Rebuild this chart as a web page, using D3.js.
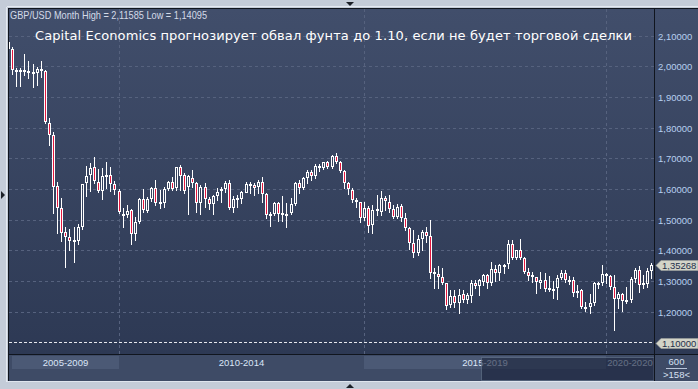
<!DOCTYPE html>
<html><head><meta charset="utf-8">
<script src="https://cdn.jsdelivr.net/npm/d3@7"></script>
<style>
html,body{margin:0;padding:0;background:#c4ccd8;overflow:hidden;}
svg{display:block;}
</style></head><body>
<svg id="c" width="698" height="389"></svg>
<script>
// ---------- DATA ----------
const months = d3.timeMonth.range(new Date(2007,10,1), new Date(2021,0,1)).map(d3.timeFormat("%Y-%m"));
const open = [
 2.0810,2.0580,
 1.9890,1.9900,1.9880,1.9850,1.9820,1.9800,1.9920,1.9850,1.8160,1.7780,1.6100,1.5390,
 1.4600,1.4460,1.4310,1.4330,1.4780,1.6200,1.6470,1.6720,1.6250,1.5960,1.6450,1.6470,
 1.6170,1.5940,1.5140,1.5170,1.5330,1.4530,1.4930,1.5700,1.5290,1.5700,1.6030,1.5590,
 1.5540,1.6000,1.6250,1.6030,1.6720,1.6470,1.6080,1.6380,1.6220,1.5540,1.6080,1.5700,
 1.5520,1.5770,1.5930,1.6000,1.6220,1.5400,1.5690,1.5680,1.5890,1.6160,1.6140,1.6090,
 1.6250,1.5840,1.5140,1.5200,1.5540,1.5200,1.5190,1.5220,1.5510,1.6200,1.6050,1.6370,
 1.6550,1.6420,1.6770,1.6710,1.6880,1.6740,1.7100,1.6880,1.6600,1.6200,1.5980,1.5650,
 1.5580,1.5080,1.5400,1.4840,1.5350,1.5270,1.5710,1.5600,1.5350,1.5110,1.5460,1.5050,
 1.4730,1.4240,1.3910,1.4370,1.4600,1.4480,1.3300,1.3230,1.3130,1.2940,1.2230,1.2530,
 1.2290,1.2580,1.2390,1.2530,1.2960,1.2850,1.2990,1.3200,1.2940,1.3390,1.3260,1.3520,
 1.3560,1.4220,1.3750,1.4020,1.3750,1.3300,1.3130,1.3130,1.2940,1.3040,1.2790,1.2750,
 1.2770,1.3100,1.3260,1.2990,1.3040,1.2610,1.2720,1.2170,1.2160,1.2280,1.2930,1.2950,
 1.3230,1.3190,1.2800,1.2420,1.2580,1.2340,1.2390,1.3070,1.3370,1.2880,1.2910,1.3340];
const high = [
 2.1160,2.0650,
 1.9960,1.9950,2.0400,2.0180,2.0100,2.0000,2.0180,1.9900,1.8330,1.7880,1.6250,1.5720,
 1.4780,1.4700,1.4780,1.4880,1.6190,1.6760,1.6850,1.7040,1.6650,1.6700,1.6880,1.6730,
 1.6270,1.6000,1.5390,1.5500,1.5360,1.5110,1.5720,1.6000,1.5750,1.6090,1.6290,1.5980,
 1.6090,1.6280,1.6400,1.6740,1.6790,1.6520,1.6470,1.6630,1.6250,1.6140,1.6200,1.5760,
 1.5810,1.6030,1.6090,1.6280,1.6300,1.5780,1.5810,1.5930,1.6250,1.6250,1.6200,1.6300,
 1.6410,1.5870,1.5270,1.5600,1.5600,1.5780,1.5540,1.5710,1.6250,1.6300,1.6410,1.6630,
 1.6640,1.6820,1.6830,1.6900,1.6920,1.7110,1.7190,1.6930,1.6630,1.6250,1.6030,1.5710,
 1.5590,1.5580,1.5450,1.5500,1.5810,1.5930,1.5780,1.5820,1.5490,1.5520,1.5520,1.5240,
 1.4780,1.4670,1.4510,1.4670,1.4760,1.5000,1.3450,1.3500,1.3430,1.2960,1.2720,1.2720,
 1.2740,1.2720,1.2630,1.3040,1.3040,1.3070,1.3240,1.3240,1.3640,1.3530,1.3570,1.3550,
 1.4350,1.4350,1.4030,1.4380,1.3800,1.3450,1.3310,1.3150,1.3300,1.3260,1.3170,1.3000,
 1.3200,1.3370,1.3370,1.3180,1.3150,1.2880,1.2740,1.2320,1.2580,1.2990,1.2990,1.3530,
 1.3260,1.3200,1.3200,1.2660,1.2610,1.2830,1.3150,1.3450,1.3510,1.3200,1.3450,1.3590];
const low = [
 2.0350,1.9760,
 1.9360,1.9360,1.9730,1.9630,1.9350,1.9400,1.9670,1.8150,1.7450,1.5230,1.4570,1.4300,
 1.3480,1.4020,1.3640,1.4230,1.4700,1.5780,1.5960,1.6220,1.5920,1.5700,1.6030,1.5960,
 1.5860,1.5220,1.4760,1.5100,1.4210,1.4350,1.4900,1.5270,1.5250,1.5630,1.5490,1.5380,
 1.5440,1.5980,1.5970,1.5980,1.5990,1.5870,1.5200,1.6080,1.5270,1.5200,1.5440,1.5350,
 1.5200,1.5650,1.5600,1.5910,1.5360,1.5270,1.5440,1.5550,1.5870,1.5870,1.5830,1.5870,
 1.5580,1.5060,1.4810,1.5160,1.4970,1.4980,1.4780,1.5190,1.5490,1.5870,1.6010,1.6200,
 1.6300,1.6360,1.6600,1.6660,1.6690,1.6690,1.6870,1.6550,1.6030,1.5850,1.5580,1.5440,
 1.4930,1.5000,1.4620,1.4570,1.5160,1.5170,1.5340,1.5270,1.5050,1.5070,1.4980,1.4670,
 1.4050,1.3800,1.3860,1.4020,1.4290,1.3120,1.2780,1.2780,1.2920,1.2090,1.2170,1.2170,
 1.1980,1.2340,1.2280,1.2340,1.2770,1.2560,1.2880,1.2770,1.2880,1.3020,1.3040,1.3280,
 1.3450,1.3720,1.3720,1.3720,1.3260,1.3040,1.2990,1.2630,1.2770,1.2700,1.2700,1.2470,
 1.2420,1.3070,1.2990,1.2900,1.2530,1.2500,1.2120,1.2030,1.1960,1.2230,1.2790,1.2880,
 1.2940,1.2750,1.1410,1.2140,1.2030,1.2280,1.2320,1.2990,1.2660,1.2790,1.2830,1.3120];
const close = [
 2.0560,1.9890,
 1.9900,1.9880,1.9850,1.9820,1.9800,1.9920,1.9850,1.8200,1.7780,1.6080,1.5400,1.4590,
 1.4460,1.4320,1.4340,1.4780,1.6160,1.6450,1.6700,1.6280,1.5960,1.6450,1.6470,1.6160,
 1.5980,1.5250,1.5200,1.5290,1.4530,1.4930,1.5700,1.5330,1.5700,1.6030,1.5540,1.5540,
 1.6000,1.6250,1.6000,1.6720,1.6450,1.5930,1.6430,1.6220,1.5570,1.6080,1.5700,1.5520,
 1.5770,1.5900,1.6000,1.6220,1.5400,1.5700,1.5710,1.5900,1.6160,1.6130,1.6030,1.6250,
 1.5840,1.5160,1.5200,1.5540,1.5200,1.5220,1.5210,1.5510,1.6200,1.6050,1.6370,1.6560,
 1.6420,1.6770,1.6710,1.6880,1.6720,1.7100,1.6880,1.6600,1.6200,1.6010,1.5650,1.5580,
 1.5080,1.5400,1.4800,1.5330,1.5280,1.5710,1.5620,1.5350,1.5110,1.5440,1.5050,1.4730,
 1.4240,1.3910,1.4370,1.4600,1.4480,1.3280,1.3230,1.3130,1.2960,1.2200,1.2530,1.2310,
 1.2560,1.2390,1.2560,1.2960,1.2850,1.3040,1.3200,1.2940,1.3390,1.3260,1.3520,1.3500,
 1.4220,1.3750,1.4020,1.3750,1.3300,1.3190,1.3200,1.2970,1.3040,1.2750,1.2750,1.2760,
 1.3120,1.3260,1.3040,1.3040,1.2610,1.2680,1.2170,1.2160,1.2280,1.2940,1.2950,1.3230,
 1.3190,1.2800,1.2420,1.2590,1.2360,1.2390,1.3070,1.3370,1.2880,1.2960,1.3340,1.3527];
const yTicks = [2.10,2.00,1.90,1.80,1.70,1.60,1.50,1.40,1.30,1.20];
const forecastLevel = 1.10;
const lastPrice = 1.35268;
const gridMonths = ["2010-02","2015-02","2020-01"];
const periodLabels = ["2005-2009","2010-2014","2015-2019","2020-2020"];
const scrollStartMonth = "2017-07";
const headerText = "GBP/USD Month High = 2,11585 Low = 1,14095";
const titleText = "Capital Economics прогнозирует обвал фунта до 1.10, если не будет торговой сделки";
const barsInfo = ["600", ">158<"];

// ---------- LAYOUT ----------
const W = 698, H = 389;
const P = {l: 9, t: 9, r: 654, b: 354};
const step = 4.0955;
const x = d3.scaleBand().domain(months)
  .range([8.5 - step/2, 8.5 - step/2 + step*months.length]).paddingInner(0).paddingOuter(0);
const cxOf = m => Math.floor(x(m) + x.bandwidth()/2);
const y = d3.scaleLinear().domain([1.10, 2.10]).range([342.7, 36.0]);
const fmt = v => d3.format(".5f")(v).replace(".", ",");

const svg = d3.select("#c");
const defs = svg.append("defs");
const grad = defs.append("linearGradient").attr("id","bg").attr("gradientUnits","userSpaceOnUse")
  .attr("x1",0).attr("y1",P.t).attr("x2",0).attr("y2",P.b);
grad.append("stop").attr("offset","0%").attr("stop-color","#414e6b");
grad.append("stop").attr("offset","100%").attr("stop-color","#2d3954");
defs.append("clipPath").attr("id","clip").append("rect")
  .attr("x",P.l).attr("y",P.t).attr("width",P.r-P.l).attr("height",P.b-P.t);

// outer
svg.append("rect").attr("width",W).attr("height",H).attr("fill","#c4ccd8");
svg.append("line").attr("x1",7).attr("x2",W).attr("y1",6.5).attr("y2",6.5).attr("stroke","#e4e9f0");
svg.append("line").attr("x1",6.5).attr("x2",6.5).attr("y1",7).attr("y2",382).attr("stroke","#e4e9f0");
// panels
svg.append("rect").attr("x",P.l).attr("y",P.t).attr("width",W-P.l).attr("height",P.b-P.t).attr("fill","url(#bg)");
svg.append("rect").attr("x",P.l).attr("y",P.b+1).attr("width",W-P.l).attr("height",26).attr("fill","#3e4b66");

// bottom period boxes
const bounds = [P.l+3, ...gridMonths.map(m=>cxOf(m)), P.r];
const bbar = svg.append("g");
periodLabels.forEach((lab,i)=>{
  if (i % 2 === 0) {
    bbar.append("rect").attr("x",bounds[i]).attr("y",356).attr("width",bounds[i+1]-bounds[i]).attr("height",13)
      .attr("fill","#4b5975");
  }
  bbar.append("text").attr("x",(bounds[i]+bounds[i+1])/2).attr("y",366).attr("text-anchor","middle")
    .attr("font-family","Liberation Sans, Arial, sans-serif").attr("font-size",9.5).attr("fill","#dbe6f8").text(lab);
});
// scroll thumb overlay
const thumbX = Math.floor(x(scrollStartMonth));
bbar.append("rect").attr("x",thumbX+0.5).attr("y",357.5).attr("width",P.r-thumbX-0.5).attr("height",23)
  .attr("fill","rgba(28,36,60,0.62)").attr("stroke","rgba(110,125,150,0.55)");

// grid
const grid = svg.append("g").attr("clip-path","url(#clip)").attr("shape-rendering","crispEdges");
grid.selectAll("line.h").data(yTicks).join("line").attr("class","h")
  .attr("x1",P.l).attr("x2",P.r).attr("y1",d=>Math.floor(y(d))+0.5).attr("y2",d=>Math.floor(y(d))+0.5)
  .attr("stroke","#56627e").attr("stroke-dasharray","3,3");
grid.selectAll("line.v").data(gridMonths).join("line").attr("class","v")
  .attr("x1",d=>cxOf(d)+0.5).attr("x2",d=>cxOf(d)+0.5).attr("y1",P.t).attr("y2",P.b)
  .attr("stroke","#56627e").attr("stroke-dasharray","3,3");
grid.append("line").attr("x1",P.l).attr("x2",P.r)
  .attr("y1",Math.floor(y(forecastLevel))+0.5).attr("y2",Math.floor(y(forecastLevel))+0.5)
  .attr("stroke","#e6e8ee").attr("stroke-dasharray","3,2");

// candles
const data = months.map((m,i)=>({m, o:open[i], h:high[i], l:low[i], c:close[i]}));
const cg = svg.append("g").attr("clip-path","url(#clip)").attr("shape-rendering","crispEdges");
const candle = cg.selectAll("g.k").data(data).join("g").attr("class","k").each(function(d){
  const g = d3.select(this);
  const cx = cxOf(d.m);
  let top = Math.round(y(Math.max(d.o,d.c)));
  let bot = Math.round(y(Math.min(d.o,d.c)));
  if (bot - top < 2) bot = top + 2;
  const yh = Math.round(y(d.h)), yl = Math.round(y(d.l));
  if (yh < top) g.append("line").attr("x1",cx+0.5).attr("x2",cx+0.5).attr("y1",yh).attr("y2",top).attr("stroke","#ffffff");
  if (yl > bot) g.append("line").attr("x1",cx+0.5).attr("x2",cx+0.5).attr("y1",bot).attr("y2",yl+1).attr("stroke","#ffffff");
  g.append("rect").attr("x",cx-0.5).attr("y",top+0.5).attr("width",2).attr("height",bot-top-1)
    .attr("fill", d.c < d.o ? "#e3173e" : "none").attr("stroke","#ffffff");
});

// frame lines
const frame = svg.append("g").attr("stroke","#10151e").attr("shape-rendering","crispEdges");
frame.append("line").attr("x1",8).attr("x2",W).attr("y1",8.5).attr("y2",8.5);
frame.append("line").attr("x1",8.5).attr("x2",8.5).attr("y1",8).attr("y2",381);
frame.append("line").attr("x1",8).attr("x2",W).attr("y1",P.b+0.5).attr("y2",P.b+0.5);
frame.append("line").attr("x1",P.r+0.5).attr("x2",P.r+0.5).attr("y1",8).attr("y2",381);
svg.append("line").attr("x1",7).attr("x2",W).attr("y1",381.5).attr("y2",381.5).attr("stroke","#dfe5ee");

// right axis labels
const ax = svg.append("g").attr("font-family","Liberation Sans, Arial, sans-serif").attr("font-size",9.5);
ax.selectAll("text.t").data(yTicks).join("text").attr("class","t")
  .attr("x",658).attr("y",d=>y(d)+3.5).attr("fill","#b7cff0").text(d=>fmt(d));
function priceTag(v, label){
  const cy = Math.round(y(v));
  ax.append("path").attr("d",`M656,${cy+0.5} L661,${cy-4.5} L698,${cy-4.5} L698,${cy+5.5} L661,${cy+5.5} Z`)
    .attr("fill","#d3d4c8").attr("stroke","#9ea3a0").attr("stroke-width",0.6);
  ax.append("text").attr("x",662).attr("y",cy+4).attr("fill","#24304a").text(label);
}
priceTag(forecastLevel, fmt(forecastLevel));
priceTag(lastPrice, fmt(lastPrice));

// bottom right info
const info = svg.append("g").attr("font-family","Liberation Sans, Arial, sans-serif").attr("font-size",9.5)
  .attr("fill","#d6e0f2").attr("text-anchor","middle");
info.append("text").attr("x",676.5).attr("y",365).text(barsInfo[0]);
info.append("line").attr("x1",666).attr("x2",687).attr("y1",368.5).attr("y2",368.5).attr("stroke","#b8c4d8");
info.append("text").attr("x",676.5).attr("y",378).text(barsInfo[1]);

// header texts
svg.append("text").attr("x",10).attr("y",18.5).attr("font-family","Liberation Sans, Arial, sans-serif")
  .attr("font-size",10.5).attr("fill","#d4dbe8").attr("textLength",197).attr("lengthAdjust","spacingAndGlyphs").text(headerText);
svg.append("text").attr("x",35).attr("y",40).attr("font-family","DejaVu Sans, Verdana, sans-serif")
  .attr("font-size",13).attr("fill","#ffffff").attr("textLength",597).attr("lengthAdjust","spacing").text(titleText);

// small triangles
svg.append("path").attr("d","M346,2 L354,2 L350,6 Z").attr("fill","#1b1f27");
svg.append("path").attr("d","M346,388 L354,388 L350,384 Z").attr("fill","#1b1f27");
svg.append("path").attr("d","M1,191 L1,199 L5,195 Z").attr("fill","#1b1f27");
</script>
</body></html>
